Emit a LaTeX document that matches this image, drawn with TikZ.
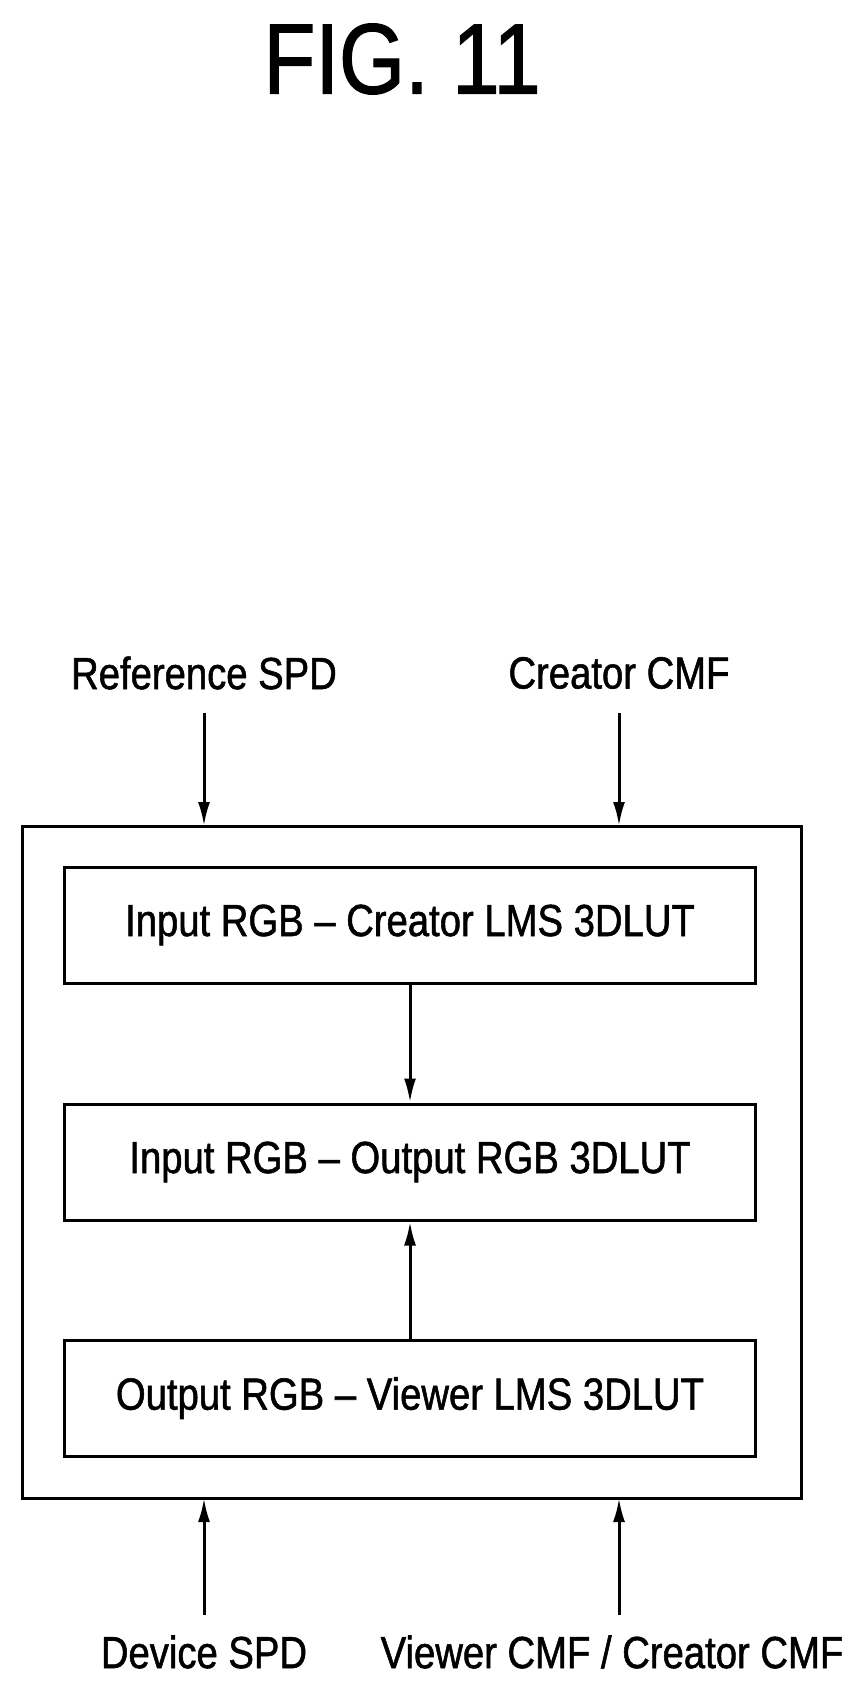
\documentclass[tikz,border=0pt]{standalone}
\usepackage{fontspec}
\setmainfont{Liberation Sans}[FakeStretch=0.85, FakeBold=1.2]
\usetikzlibrary{positioning, arrows.meta}

\begin{document}
\begin{tikzpicture}[
    x=1pt, y=-1pt,
    % Styles
    lut/.style={ % 3DLUT block
        draw,
        line width=3pt,
        minimum width=691pt,
        minimum height=116pt,
        font=\fontsize{45}{48}\selectfont
    },
    label/.style={
        font=\fontsize{45}{48}\selectfont
    },
    arrow/.style={
        -{Latex[length=24pt,width=12pt]},
        line width=3pt
    }
]
    \useasboundingbox (0,0) rectangle (864,1696);

    % Title
    \node[font=\fontsize{100}{110}\selectfont] (title) at (402,59) {FIG. 11};

    % Outer frame
    \draw[line width=3pt] (22,826) rectangle (801,1498);

    % 3DLUT blocks
    \node[lut] (creator) at (410,925) {Input RGB -- Creator LMS 3DLUT};
    \node[lut] (output) at (410,1162) {Input RGB -- Output RGB 3DLUT};
    \node[lut] (viewer) at (410,1398) {Output RGB -- Viewer LMS 3DLUT};

    % Inputs and outputs
    \node[label] (refspd) at (204,673) {Reference SPD};
    \node[label] (crcmf) at (619,673) {Creator CMF};
    \node[label] (devspd) at (204,1652) {Device SPD};
    \node[label] (vwcmf) at (612,1652) {Viewer CMF / Creator CMF};
    \coordinate (intop1) at (204,826);
    \coordinate (intop2) at (619,826);
    \coordinate (inbot1) at (204,1498);
    \coordinate (inbot2) at (619,1498);

    % Edges
    \draw[arrow] (204,713) -- (intop1);
    \draw[arrow] (619,713) -- (intop2);
    \draw[arrow] (204,1615) -- (inbot1);
    \draw[arrow] (619,1615) -- (inbot2);
    \draw[arrow] (creator) -- (output);
    \draw[arrow] (viewer) -- (output);
\end{tikzpicture}
\end{document}
